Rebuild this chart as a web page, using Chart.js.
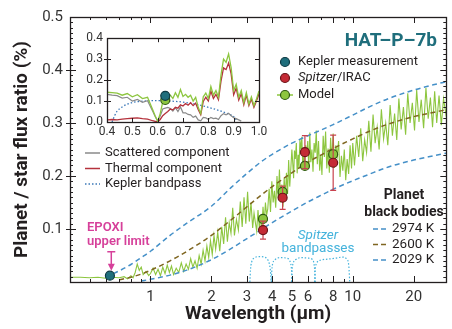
<!DOCTYPE html>
<html lang="en">
<head>
<meta charset="UTF-8">
<title>HAT-P-7b planet/star flux ratio</title>
<script src="https://cdn.jsdelivr.net/npm/chart.js@4"></script>
<style>
  html, body { margin: 0; padding: 0; background: #fff; }
  #wrap { position: relative; width: 452px; height: 329px; }
  #main { position: absolute; left: 0; top: 0; }
  #inset { position: absolute; left: 72px; top: 27px; }
</style>
</head>
<body>
<div id="wrap">
  <canvas id="main" width="452" height="329"></canvas>
  <canvas id="inset" width="200" height="115"></canvas>
</div>
<script>
// ---- main panel data (wavelength in µm, flux ratio in %) ----
const modelWl = [
  0.40, 0.45, 0.50, 0.55, 0.60, 0.65, 0.70, 0.74, 0.77, 0.80, 0.82, 0.84, 0.86, 0.88, 0.90, 0.92, 0.95, 0.98,
  1.00, 1.03, 1.06, 1.09, 1.12, 1.15, 1.18, 1.21, 1.24, 1.27, 1.30, 1.34, 1.38, 1.42, 1.46, 1.50, 1.54, 1.58,
  1.62, 1.66, 1.70, 1.74, 1.78, 1.82, 1.86, 1.90, 1.94, 1.98,
  2.02, 2.06, 2.10, 2.15, 2.20, 2.25, 2.30, 2.35, 2.40, 2.45, 2.50, 2.55, 2.60, 2.66, 2.72, 2.78, 2.84, 2.90,
  2.96, 3.02, 3.08, 3.14,
  3.20, 3.25, 3.30, 3.35, 3.40, 3.45, 3.50, 3.55, 3.60, 3.65, 3.70, 3.75, 3.80, 3.86, 3.92, 3.98, 4.04, 4.10,
  4.16, 4.22, 4.28, 4.34, 4.40, 4.46, 4.52, 4.58, 4.64, 4.70, 4.76, 4.82, 4.88, 4.94, 5.00,
  5.04, 5.10, 5.15, 5.20, 5.26, 5.31, 5.37, 5.42, 5.48, 5.54, 5.60, 5.66, 5.72, 5.78, 5.85, 5.92, 5.99, 6.06,
  6.13, 6.20, 6.28, 6.36, 6.44, 6.52, 6.60, 6.68, 6.77, 6.86, 6.95, 7.04, 7.14, 7.24, 7.34, 7.44, 7.55, 7.66,
  7.77, 7.88, 8.00, 8.12, 8.25, 8.38, 8.51, 8.65, 8.79, 8.93, 9.08, 9.23, 9.38, 9.54, 9.70, 9.86,
  10.0, 10.2, 10.45, 10.7, 10.95, 11.2, 11.45, 11.7, 12.0, 12.3, 12.6, 12.9, 13.2, 13.5, 13.85, 14.2, 14.55, 14.9,
  15.3, 15.7, 16.1, 16.5, 16.9, 17.35, 17.8, 18.25, 18.7, 19.2, 19.7, 20.2, 20.7, 21.25, 21.8, 22.4, 23.0, 23.6,
  24.2, 24.8, 25.4, 26.0, 26.7, 27.4, 28.1, 29.0
];
const modelFlux = [
  0.009, 0.009, 0.008, 0.009, 0.007, 0.009, 0.008, 0.010, 0.006, 0.012, 0.008, 0.018, 0.034, 0.022, 0.028, 0.014, 0.020, 0.012,
  0.016, 0.026, 0.014, 0.024, 0.012, 0.028, 0.016, 0.032, 0.018, 0.030, 0.014, 0.026, 0.018, 0.036, 0.020, 0.034, 0.024, 0.044,
  0.028, 0.040, 0.026, 0.050, 0.034, 0.060, 0.040, 0.068, 0.046, 0.078,
  0.052, 0.088, 0.062, 0.094, 0.058, 0.104, 0.072, 0.122, 0.076, 0.112, 0.092, 0.140, 0.088, 0.118, 0.098, 0.152, 0.104, 0.160,
  0.110, 0.170, 0.114, 0.150,
  0.102, 0.130, 0.112, 0.096, 0.136, 0.104, 0.120, 0.098, 0.142, 0.110, 0.150, 0.126, 0.138, 0.176, 0.132, 0.190, 0.150, 0.172,
  0.140, 0.200, 0.158, 0.212, 0.150, 0.184, 0.142, 0.196, 0.160, 0.206, 0.166, 0.230, 0.180, 0.214, 0.250,
  0.230, 0.196, 0.248, 0.232, 0.262, 0.205, 0.240, 0.214, 0.268, 0.250, 0.274, 0.218, 0.236, 0.210, 0.258, 0.240, 0.266, 0.214,
  0.282, 0.226, 0.250, 0.208, 0.262, 0.244, 0.286, 0.222, 0.266, 0.210, 0.240, 0.202, 0.276, 0.236, 0.284, 0.214, 0.252, 0.206,
  0.272, 0.230, 0.280, 0.215, 0.258, 0.238, 0.266, 0.198, 0.238, 0.210, 0.250, 0.192, 0.232, 0.204, 0.258, 0.214,
  0.262, 0.220, 0.276, 0.236, 0.290, 0.228, 0.268, 0.244, 0.304, 0.246, 0.316, 0.262, 0.292, 0.250, 0.326, 0.270, 0.300, 0.258,
  0.334, 0.276, 0.318, 0.268, 0.346, 0.288, 0.330, 0.278, 0.356, 0.300, 0.338, 0.286, 0.362, 0.302, 0.344, 0.290, 0.366, 0.308,
  0.348, 0.292, 0.360, 0.300, 0.352, 0.296, 0.346, 0.312
];

const bbWl   = [0.6, 0.7, 0.8, 0.9, 1.0, 1.25, 1.5, 2.0, 2.5, 3.0, 3.5, 4.0, 5.0, 6.0, 7.0, 8.0, 10, 12, 15, 20, 25, 29];
const bb2974 = [0.009, 0.021, 0.033, 0.046, 0.058, 0.088, 0.110, 0.143, 0.178, 0.205, 0.226, 0.241, 0.262, 0.276, 0.287, 0.297, 0.315, 0.330, 0.346, 0.362, 0.372, 0.378];
const bb2600 = [null, 0.004, 0.009, 0.015, 0.022, 0.040, 0.057, 0.088, 0.117, 0.142, 0.163, 0.180, 0.206, 0.226, 0.240, 0.252, 0.270, 0.284, 0.298, 0.312, 0.320, 0.325];
const bb2029 = [null, null, null, 0.002, 0.005, 0.013, 0.022, 0.042, 0.063, 0.082, 0.098, 0.112, 0.134, 0.151, 0.164, 0.175, 0.191, 0.203, 0.217, 0.230, 0.238, 0.243];

// Spitzer IRAC bandpass outlines (drawn at an arbitrary height on the flux axis)
const irac1Wl = [3.10, 3.12, 3.16, 3.25, 3.45, 3.65, 3.80, 3.88, 3.93, 3.95];
const irac1   = [0, 0.022, 0.037, 0.045, 0.048, 0.047, 0.042, 0.032, 0.015, 0];
const irac2Wl = [3.96, 3.98, 4.03, 4.15, 4.40, 4.70, 4.88, 4.96, 5.00, 5.02];
const irac2   = [0, 0.022, 0.036, 0.043, 0.046, 0.045, 0.040, 0.030, 0.014, 0];
const irac3Wl = [4.98, 5.01, 5.08, 5.25, 5.60, 6.00, 6.30, 6.44, 6.50, 6.52];
const irac3   = [0, 0.022, 0.036, 0.043, 0.046, 0.045, 0.043, 0.033, 0.015, 0];
const irac4Wl = [6.48, 6.52, 6.62, 6.90, 7.50, 8.20, 8.90, 9.35, 9.56, 9.66];
const irac4   = [0, 0.022, 0.035, 0.041, 0.043, 0.045, 0.047, 0.043, 0.030, 0];

const keplerWl = [0.63];
const keplerFlux = [0.012];
const spitzerWl = [3.6, 4.5, 5.8, 8.0];
const spitzerFlux = [0.098, 0.159, 0.245, 0.225];
const spitzerErr = [0.017, 0.022, 0.031, 0.052];
const modelBandFlux = [0.119, 0.170, 0.219, 0.241];
const epoxiWl = 0.64;
const epoxiLimit = 0.057;

const xTicks = [1, 2, 3, 4, 5, 6, 8, 10, 20];
const xMinorTicks = [0.5, 0.6, 0.7, 0.8, 0.9, 7, 9];
const yTicks = [0, 0.1, 0.2, 0.3, 0.4, 0.5];
const bbLabels = ['2974 K', '2600 K', '2029 K'];

// ---- inset data (0.4–1.0 µm) ----
const insetWl = [0.40, 0.42, 0.44, 0.46, 0.48, 0.50, 0.52, 0.54, 0.56, 0.58, 0.59, 0.60, 0.61, 0.62, 0.63, 0.64,
  0.65, 0.66, 0.67, 0.68, 0.69, 0.70, 0.71, 0.72, 0.73, 0.74, 0.75, 0.76, 0.77, 0.78, 0.79, 0.80, 0.81, 0.82,
  0.83, 0.84, 0.85, 0.86, 0.87, 0.88, 0.89, 0.90, 0.91, 0.92, 0.93, 0.94, 0.95, 0.96, 0.97, 0.98, 0.99, 1.00];
const insetModel = [0.142, 0.140, 0.138, 0.128, 0.136, 0.120, 0.130, 0.112, 0.118, 0.060, 0.030, 0.004, 0.040, 0.095, 0.108, 0.122,
  0.128, 0.112, 0.140, 0.118, 0.155, 0.122, 0.132, 0.118, 0.128, 0.100, 0.118, 0.070, 0.040, 0.120, 0.138, 0.112, 0.170, 0.128,
  0.150, 0.118, 0.225, 0.300, 0.285, 0.325, 0.260, 0.150, 0.180, 0.118, 0.150, 0.092, 0.140, 0.085, 0.120, 0.078, 0.110, 0.148];
const insetThermal = [0.010, 0.012, 0.010, 0.014, 0.016, 0.018, 0.020, 0.016, 0.014, 0.006, 0.003, 0.000, 0.012, 0.030, 0.040, 0.050,
  0.062, 0.058, 0.070, 0.066, 0.082, 0.076, 0.088, 0.080, 0.092, 0.078, 0.090, 0.060, 0.035, 0.098, 0.118, 0.100, 0.148, 0.112,
  0.132, 0.106, 0.195, 0.258, 0.250, 0.282, 0.230, 0.130, 0.162, 0.105, 0.135, 0.082, 0.128, 0.078, 0.110, 0.070, 0.100, 0.135];
const insetScattered = [0.132, 0.128, 0.126, 0.114, 0.118, 0.100, 0.108, 0.094, 0.102, 0.052, 0.026, 0.004, 0.028, 0.062, 0.066, 0.070,
  0.064, 0.052, 0.068, 0.050, 0.072, 0.044, 0.044, 0.036, 0.034, 0.022, 0.028, 0.010, 0.006, 0.022, 0.020, 0.012, 0.022, 0.016,
  0.018, 0.012, 0.030, 0.040, 0.034, 0.042, 0.030, 0.020, 0.016, 0.010, 0.004, null, null, null, null, null, null, null];
const keplerBandWl = [0.42, 0.43, 0.44, 0.46, 0.48, 0.50, 0.55, 0.60, 0.65, 0.70, 0.75, 0.80, 0.85, 0.88, 0.90, 0.91];
const keplerBand   = [0.000, 0.030, 0.052, 0.072, 0.085, 0.093, 0.100, 0.102, 0.100, 0.095, 0.085, 0.070, 0.052, 0.038, 0.025, 0.010];
const insetKepler = 0.125;
const insetModelPoint = 0.105;
const insetXTicks = [0.4, 0.5, 0.6, 0.7, 0.8, 0.9, 1.0];
const insetYTicks = [0, 0.1, 0.2, 0.3, 0.4];

// ---- helpers ----
const FONT = 'Roboto';
const C = {
  green: '#8dc63f', greenEdge: '#2f5a12',
  red: '#c42a35', redEdge: '#6b1419', errbar: '#c9424f',
  teal: '#1f6e7c', tealEdge: '#0e3a44',
  blue: '#4590c8', brown: '#7f6621', cyan: '#45b3dc',
  gray: '#8a8a8a', thermal: '#b5323c', kband: '#3b78b8',
  magenta: '#d6409a', frame: '#231f20', text: '#231f20'
};
const pts = (xs, ys) => xs.map((x, i) => ({ x, y: ys[i] })).filter(p => p.y !== null);
const crisp = v => Math.round(v) + 0.5;

function line(data, color, width, dash, extra) {
  return Object.assign({ data, showLine: true, borderColor: color, borderWidth: width, borderDash: dash || [],
    pointRadius: 0, fill: false }, extra || {});
}
function marker(data, fill, edge, order) {
  return { data, showLine: false, pointRadius: 4.5, pointBackgroundColor: fill, pointBorderColor: edge,
    pointBorderWidth: 1.2, order };
}

function drawTicks(ctx, a, xs, ys, o) {
  ctx.save();
  ctx.strokeStyle = C.frame;
  ctx.lineWidth = 1;
  ctx.beginPath();
  o.xMajor.forEach(v => { const p = crisp(xs.getPixelForValue(v));
    ctx.moveTo(p, a.bottom); ctx.lineTo(p, a.bottom - o.major);
    ctx.moveTo(p, a.top); ctx.lineTo(p, a.top + o.major); });
  o.xMinor.forEach(v => { const p = crisp(xs.getPixelForValue(v));
    ctx.moveTo(p, a.bottom); ctx.lineTo(p, a.bottom - o.minor);
    ctx.moveTo(p, a.top); ctx.lineTo(p, a.top + o.minor); });
  o.yMajor.forEach(v => { const p = crisp(ys.getPixelForValue(v));
    ctx.moveTo(a.left - o.out, p); ctx.lineTo(a.left + o.major, p);
    ctx.moveTo(a.right, p); ctx.lineTo(a.right - o.major, p); });
  o.yMinor.forEach(v => { const p = crisp(ys.getPixelForValue(v));
    ctx.moveTo(a.left, p); ctx.lineTo(a.left + o.minor, p);
    ctx.moveTo(a.right, p); ctx.lineTo(a.right - o.minor, p); });
  ctx.stroke();
  ctx.lineWidth = 1.3;
  ctx.strokeRect(Math.round(a.left) + 0.5, Math.round(a.top) + 0.5, Math.round(a.right - a.left), Math.round(a.bottom - a.top));
  ctx.restore();
}

function legendDot(ctx, x, y, fill, edge) {
  ctx.beginPath();
  ctx.arc(x, y, 4.5, 0, Math.PI * 2);
  ctx.fillStyle = fill; ctx.fill();
  ctx.lineWidth = 1.2; ctx.strokeStyle = edge; ctx.stroke();
}

// minor y ticks every 0.01 (axis decoration only)
const yMinorMain = [];
for (let i = 1; i < 50; i++) if (i % 10) yMinorMain.push(i / 100);

const mainDecor = {
  id: 'mainDecor',
  beforeDatasetDraw(chart, args) {
    if (args.index !== 9) return;
    const { ctx, scales: { x, y } } = chart;
    ctx.save();
    ctx.strokeStyle = C.errbar;
    ctx.lineWidth = 1.2;
    spitzerWl.forEach((w, i) => {
      const px = x.getPixelForValue(w);
      const top = y.getPixelForValue(spitzerFlux[i] + spitzerErr[i]);
      const bot = y.getPixelForValue(spitzerFlux[i] - spitzerErr[i]);
      ctx.beginPath();
      ctx.moveTo(px, top); ctx.lineTo(px, bot);
      ctx.moveTo(px - 3, top); ctx.lineTo(px + 3, top);
      ctx.moveTo(px - 3, bot); ctx.lineTo(px + 3, bot);
      ctx.stroke();
    });
    ctx.restore();
  },
  afterDraw(chart) {
    const { ctx, chartArea: a, scales: { x, y } } = chart;
    drawTicks(ctx, a, x, y, { xMajor: xTicks, xMinor: xMinorTicks, yMajor: yTicks.slice(1, -1), yMinor: yMinorMain,
      major: 6, minor: 3, out: 4 });

    ctx.save();
    ctx.textBaseline = 'middle';

    // EPOXI upper limit
    const ex = x.getPixelForValue(epoxiWl);
    const ey = y.getPixelForValue(epoxiLimit);
    ctx.strokeStyle = C.magenta; ctx.fillStyle = C.magenta; ctx.lineWidth = 1.5;
    ctx.beginPath();
    ctx.moveTo(ex - 4, ey); ctx.lineTo(ex + 4, ey);
    ctx.moveTo(ex, ey); ctx.lineTo(ex, ey + 14);
    ctx.stroke();
    ctx.beginPath();
    ctx.moveTo(ex - 3.5, ey + 12); ctx.lineTo(ex + 3.5, ey + 12); ctx.lineTo(ex, ey + 19); ctx.closePath(); ctx.fill();
    ctx.font = `600 13px ${FONT}`;
    ctx.textAlign = 'left';
    ctx.fillText('EPOXI', 87, 228);
    ctx.fillText('upper limit', 87, 242);

    // title
    ctx.fillStyle = C.teal;
    ctx.font = `bold 19px ${FONT}`;
    ctx.textAlign = 'right';
    ctx.fillText('HAT\u2013P\u20137b', 437, 41);

    // right legend
    ctx.textAlign = 'left';
    legendDot(ctx, 285, 62, C.teal, C.tealEdge);
    legendDot(ctx, 285, 78, C.red, C.redEdge);
    ctx.strokeStyle = C.green; ctx.lineWidth = 1.5;
    ctx.beginPath(); ctx.moveTo(277, 95); ctx.lineTo(293, 95); ctx.stroke();
    legendDot(ctx, 285, 95, C.green, C.greenEdge);
    ctx.fillStyle = C.text;
    ctx.font = `13px ${FONT}`;
    ctx.fillText('Kepler measurement', 298, 62);
    ctx.font = `italic 13px ${FONT}`;
    ctx.fillText('Spitzer', 298, 78);
    const sw = ctx.measureText('Spitzer').width;
    ctx.font = `13px ${FONT}`;
    ctx.fillText('/IRAC', 298 + sw, 78);
    ctx.fillText('Model', 298, 95);

    // inset legend
    const insetLeg = [['Scattered component', C.gray, []], ['Thermal component', C.thermal, []], ['Kepler bandpass', C.kband, [1.5, 2]]];
    insetLeg.forEach(([label, col, dash], i) => {
      const ly = 153 + i * 15.5;
      ctx.strokeStyle = col; ctx.lineWidth = 1.5; ctx.setLineDash(dash);
      ctx.beginPath(); ctx.moveTo(85, ly); ctx.lineTo(100, ly); ctx.stroke();
      ctx.setLineDash([]);
      ctx.fillStyle = C.text;
      ctx.fillText(label, 105, ly);
    });

    // black body legend
    ctx.font = `bold 14px ${FONT}`;
    ctx.textAlign = 'center';
    ctx.fillText('Planet', 404, 195);
    ctx.fillText('black bodies', 404, 212);
    ctx.font = `13.5px ${FONT}`;
    ctx.textAlign = 'left';
    const bbCols = [C.blue, C.brown, C.blue];
    bbLabels.forEach((label, i) => {
      const ly = 229 + i * 15.5;
      ctx.strokeStyle = bbCols[i]; ctx.lineWidth = 1.5; ctx.setLineDash([5, 3]);
      ctx.beginPath(); ctx.moveTo(373, ly); ctx.lineTo(388, ly); ctx.stroke();
      ctx.setLineDash([]);
      ctx.fillStyle = C.text;
      ctx.fillText(label, 392, ly);
    });

    // Spitzer bandpasses label
    ctx.fillStyle = C.cyan;
    ctx.textAlign = 'center';
    ctx.font = `italic 13.5px ${FONT}`;
    ctx.fillText('Spitzer', 318, 236);
    ctx.font = `13.5px ${FONT}`;
    ctx.fillText('bandpasses', 318, 249);
    ctx.restore();
  }
};

const mono = { cubicInterpolationMode: 'monotone' };

new Chart(document.getElementById('main'), {
  type: 'scatter',
  data: {
    datasets: [
      line(pts(modelWl, modelFlux), C.green, 1.1, [], { order: 6 }),                         // 0
      line(pts(bbWl, bb2974), C.blue, 1.5, [5, 3.5], Object.assign({ order: 4 }, mono)),   // 1
      line(pts(bbWl, bb2600), C.brown, 1.5, [5, 3.5], Object.assign({ order: 4 }, mono)),  // 2
      line(pts(bbWl, bb2029), C.blue, 1.5, [5, 3.5], Object.assign({ order: 4 }, mono)),   // 3
      line(pts(irac1Wl, irac1), C.cyan, 1.2, [1.5, 1.8], Object.assign({ order: 5 }, mono)), // 4
      line(pts(irac2Wl, irac2), C.cyan, 1.2, [1.5, 1.8], Object.assign({ order: 5 }, mono)), // 5
      line(pts(irac3Wl, irac3), C.cyan, 1.2, [1.5, 1.8], Object.assign({ order: 5 }, mono)), // 6
      line(pts(irac4Wl, irac4), C.cyan, 1.2, [1.5, 1.8], Object.assign({ order: 5 }, mono)), // 7
      marker(pts(spitzerWl, modelBandFlux), C.green, C.greenEdge, 3),                        // 8
      marker(pts(spitzerWl, spitzerFlux), C.red, C.redEdge, 2),                              // 9
      marker(pts(keplerWl, keplerFlux), C.teal, C.tealEdge, 1)                               // 10
    ]
  },
  options: {
    responsive: false,
    animation: false,
    events: [],
    layout: { padding: { top: 17, right: 3, left: 0, bottom: 0 } },
    plugins: { legend: { display: false }, tooltip: { enabled: false } },
    scales: {
      x: {
        type: 'logarithmic', min: 0.4, max: 29,
        afterBuildTicks: s => { s.ticks = xTicks.map(v => ({ value: v })); },
        afterFit: s => { s.height = 47; },
        grid: { display: false, drawTicks: false },
        border: { display: false },
        ticks: { font: { family: FONT, size: 15 }, color: '#333', padding: 6, autoSkip: false, maxRotation: 0,
          callback: v => String(v) },
        title: { display: true, text: 'Wavelength (\u00b5m)', color: C.text,
          font: { family: FONT, size: 19, weight: 'bold' }, padding: { top: 0, bottom: 3 } }
      },
      y: {
        min: 0, max: 0.5,
        afterBuildTicks: s => { s.ticks = yTicks.map(v => ({ value: v })); },
        afterFit: s => { s.width = 70; },
        grid: { display: false, drawTicks: false },
        border: { display: false },
        ticks: { font: { family: FONT, size: 15 }, color: '#333', padding: 7,
          callback: v => v === 0 ? '' : v.toFixed(1) },
        title: { display: true, text: 'Planet / star flux ratio (%)', color: C.text,
          font: { family: FONT, size: 19, weight: 'bold' }, padding: { top: 11, bottom: 0 } }
      }
    }
  },
  plugins: [mainDecor]
});

const insetDecor = {
  id: 'insetDecor',
  afterDraw(chart) {
    const { ctx, chartArea: a, scales: { x, y } } = chart;
    drawTicks(ctx, a, x, y, { xMajor: insetXTicks.slice(1, -1), xMinor: [], yMajor: insetYTicks.slice(1, -1), yMinor: [],
      major: 4, minor: 0, out: 3 });
  }
};

new Chart(document.getElementById('inset'), {
  type: 'scatter',
  data: {
    datasets: [
      marker([{ x: keplerWl[0], y: insetKepler }], C.teal, C.tealEdge, 0),
      marker([{ x: keplerWl[0], y: insetModelPoint }], C.green, C.greenEdge, 1),
      line(pts(insetWl, insetModel), C.green, 1.3, [], { order: 2 }),
      line(pts(insetWl, insetThermal), C.thermal, 1.3, [], { order: 3 }),
      line(pts(insetWl, insetScattered), C.gray, 1.2, [], { order: 4 }),
      line(pts(keplerBandWl, keplerBand), C.kband, 1.3, [1.5, 2], Object.assign({ order: 5 }, mono))
    ]
  },
  options: {
    responsive: false,
    animation: false,
    events: [],
    layout: { padding: { top: 8, right: 13, left: 0, bottom: 0 } },
    plugins: { legend: { display: false }, tooltip: { enabled: false } },
    scales: {
      x: {
        type: 'linear', min: 0.4, max: 1.0,
        afterBuildTicks: s => { s.ticks = insetXTicks.map(v => ({ value: v })); },
        afterFit: s => { s.height = 20; },
        grid: { display: false, drawTicks: false },
        border: { display: false },
        ticks: { font: { family: FONT, size: 12 }, color: '#333', padding: 3, autoSkip: false, maxRotation: 0,
          callback: v => v.toFixed(1) }
      },
      y: {
        min: 0, max: 0.4,
        afterBuildTicks: s => { s.ticks = insetYTicks.map(v => ({ value: v })); },
        afterFit: s => { s.width = 35; },
        grid: { display: false, drawTicks: false },
        border: { display: false },
        ticks: { font: { family: FONT, size: 12 }, color: '#333', padding: 4, callback: v => v.toFixed(1) }
      }
    }
  },
  plugins: [insetDecor]
});
</script>
</body>
</html>
